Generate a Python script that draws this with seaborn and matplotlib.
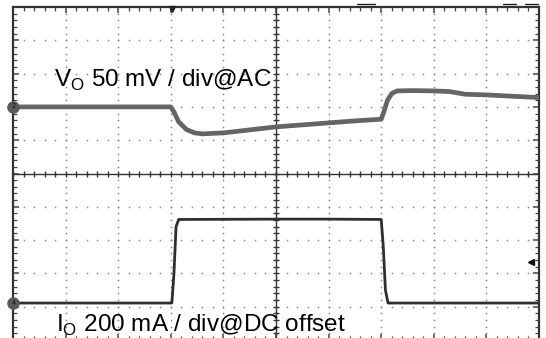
import numpy as np
import pandas as pd
import seaborn as sns
import matplotlib.pyplot as plt

# oscilloscope trace key points, in divisions (x: 0..10 time, y: -5..5 screen)
vo_t = [0.0, 1.5, 3.0, 3.06, 3.15, 3.3, 3.45, 3.6, 4.0, 4.5, 5.0, 5.5, 6.0, 6.5, 7.0,
        7.05, 7.12, 7.2, 7.3, 7.6, 8.0, 8.3, 8.6, 9.0, 9.5, 10.0]
vo_v = [2.0, 2.0, 2.0, 1.85, 1.55, 1.32, 1.22, 1.19, 1.22, 1.31, 1.40, 1.46, 1.52, 1.58, 1.63,
        1.85, 2.2, 2.4, 2.48, 2.49, 2.48, 2.46, 2.38, 2.36, 2.32, 2.28]

io_t = [0.0, 1.5, 3.02, 3.06, 3.1, 3.15, 5.0, 6.0, 7.0, 7.04, 7.08, 7.13, 8.5, 10.0]
io_v = [-3.89, -3.89, -3.89, -3.0, -1.6, -1.38, -1.37, -1.37, -1.38, -2.2, -3.5, -3.89, -3.89, -3.89]

vo_label = r"V$_\mathrm{O}$ 50 mV / div@AC"
io_label = r"I$_\mathrm{O}$ 200 mA / div@DC offset"

sns.set_style("white")
plt.rcParams['font.family'] = ['Liberation Sans', 'DejaVu Sans']
plt.rcParams['mathtext.fontset'] = 'custom'
plt.rcParams['mathtext.rm'] = 'Liberation Sans'

fig = plt.figure(figsize=(5.46, 3.38), dpi=100)
ax = fig.add_axes([13 / 546, -2 / 338, 526 / 546, 333 / 338])
ax.set_xlim(0, 10)
ax.set_ylim(-5, 5)

# dotted graticule
grid_col = "#8c8c8c"
fine = np.arange(0, 10.001, 0.2)
for k in range(1, 10):
    ax.scatter(np.full(len(fine), k), fine - 5, s=1.6, color=grid_col, lw=0, zorder=1)
    ax.scatter(fine, np.full(len(fine), k - 5), s=1.6, color=grid_col, lw=0, zorder=1)

# centre axes with ticks
ax.axvline(5, color="#333333", lw=1.0, zorder=2)
ax.axhline(0, color="#333333", lw=1.0, zorder=2)
ax.plot(np.full(len(fine), 5), fine - 5, ls="none", marker="_", ms=5, mew=1.0, color="#333333", zorder=2)
ax.plot(fine, np.zeros(len(fine)), ls="none", marker="|", ms=5, mew=1.0, color="#333333", zorder=2)

# traces
vo = pd.DataFrame({"t": vo_t, "v": vo_v})
io = pd.DataFrame({"t": io_t, "v": io_v})
sns.lineplot(data=vo, x="t", y="v", ax=ax, color="#656565", lw=3.4, estimator=None, zorder=3)
sns.lineplot(data=io, x="t", y="v", ax=ax, color="#2e2e2e", lw=2.0, estimator=None, zorder=3)

# channel markers, trigger marks
ax.plot([0], [2.0], marker="o", ms=8, color="#5a5a5a", clip_on=False, zorder=5)
ax.text(0.02, 2.0, "2", fontsize=5, ha="center", va="center", color="#111111", zorder=6)
ax.plot([0], [-3.89], marker="o", ms=8, color="#5a5a5a", clip_on=False, zorder=5)
ax.text(0.02, -3.89, "4", fontsize=5, ha="center", va="center", color="#111111", zorder=6)
ax.plot([9.85], [-2.66], marker="<", ms=4, color="#111111", zorder=5)
ax.plot([3.03], [4.95], marker="v", ms=4, color="#222222", clip_on=False, zorder=5)

# labels
ax.text(0.78, 2.6, vo_label, fontsize=17.5, va="baseline", color="black", zorder=7)
ax.text(0.82, -4.76, io_label, fontsize=17.5, va="baseline", color="black", zorder=7)

# frame with inward ticks
for sp in ax.spines.values():
    sp.set_color("#333333")
    sp.set_linewidth(1.6)
ax.set_xticks(np.arange(0, 10.01, 1))
ax.set_yticks(np.arange(-5, 5.01, 1))
ax.set_xticks(fine, minor=True)
ax.set_yticks(fine - 5, minor=True)
ax.tick_params(which="both", direction="in", top=True, right=True, bottom=True, left=True,
               labelbottom=False, labelleft=False, color="#444444")
ax.tick_params(which="major", length=4.5, width=1.1)
ax.tick_params(which="minor", length=3, width=0.9)
ax.set_xlabel("")
ax.set_ylabel("")

# small marks above the frame
for x0, x1 in [(357, 375), (503, 516), (525, 538)]:
    fig.add_artist(plt.Line2D([x0 / 546, x1 / 546], [334 / 338, 334 / 338], color="#222222", lw=1.0))

fig.savefig("out.png", dpi=100)
